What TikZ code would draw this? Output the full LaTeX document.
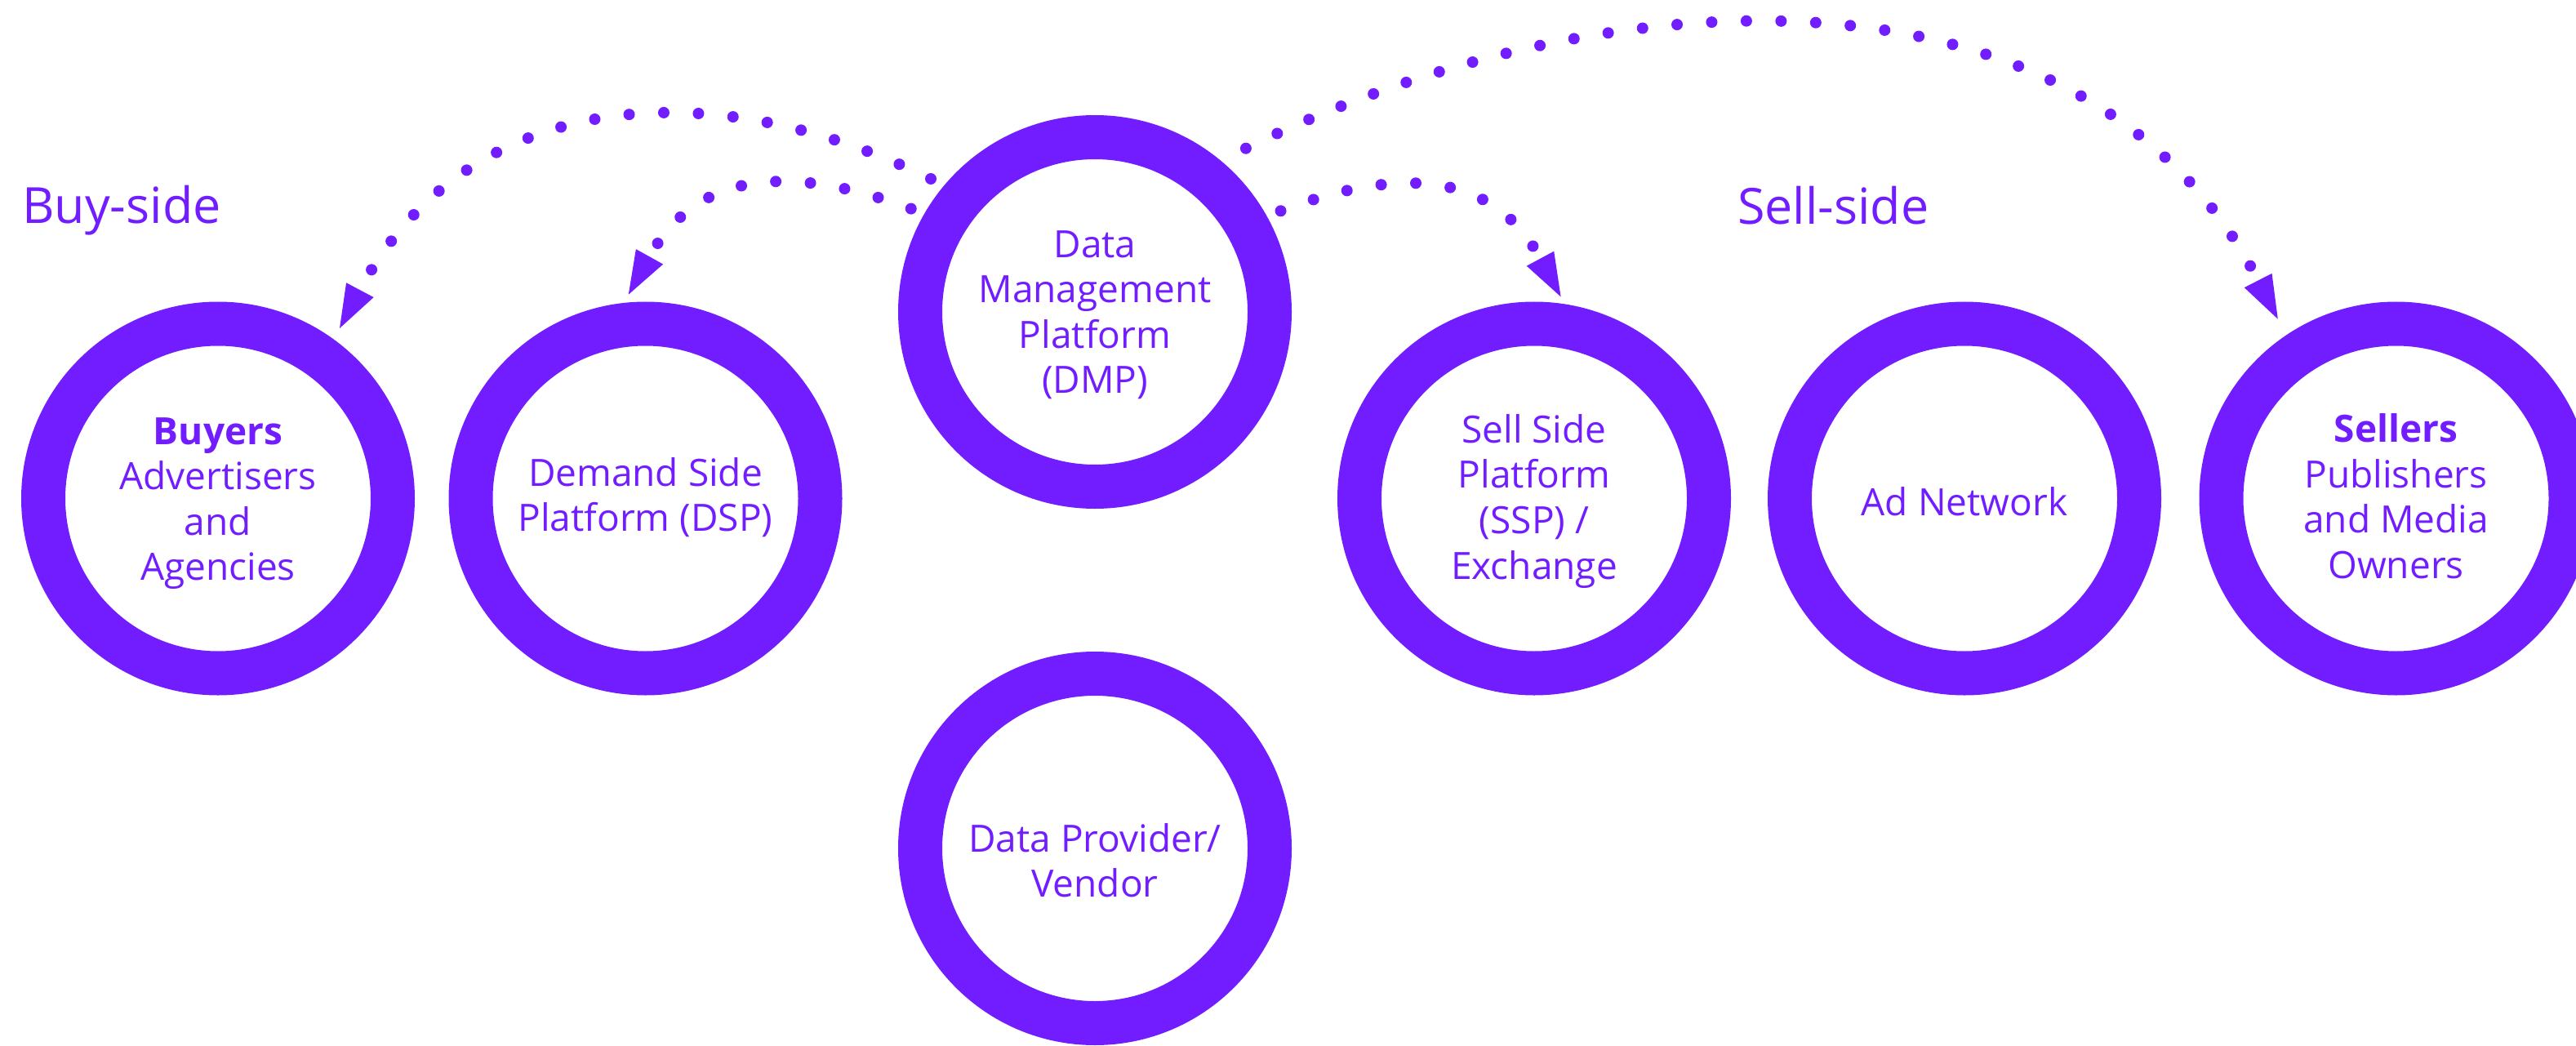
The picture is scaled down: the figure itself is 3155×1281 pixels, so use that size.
\documentclass[tikz,border=0pt]{standalone}
\usepackage{fontspec}
\setmainfont{Open Sans}
\usetikzlibrary{arrows.meta}
\definecolor{pcol}{RGB}{113,29,255}
\begin{document}
\begin{tikzpicture}[x=1pt,y=1pt,
  ring/.style={circle, draw=pcol, line width=54pt, minimum size=428pt, inner sep=0pt,
    align=center, text=pcol, font=\fontsize{46pt}{55.6pt}\selectfont, text depth=0pt},
  sidelabel/.style={anchor=base west, inner sep=0pt, text=pcol, font=\fontsize{61pt}{70pt}\selectfont},
  conn/.style={draw=pcol, line width=14pt, line cap=round, dash pattern=on 0pt off 42.5pt,
    -{Triangle[length=53pt,width=38pt,line width=0pt]}}]
\useasboundingbox (0,-1281) rectangle (3155,0);
\clip (0,-1281) rectangle (3155,0);

\node[ring, text height=200.6pt] (buyers) at (267,-610.5) {\textbf{Buyers}\\Advertisers\\and\\Agencies};
\node[ring, text height=80.2pt] (dsp) at (790.5,-610.5) {Demand Side\\Platform (DSP)};
\node[ring, text height=199.6pt] (dmp) at (1341,-382) {Data\\Management\\Platform\\(DMP)};
\node[ring, text height=119.8pt] (vendor) at (1341,-1039) {Data Provider/\\Vendor};
\node[ring, text height=197.2pt] (ssp) at (1879,-610.5) {Sell Side\\Platform\\(SSP) /\\Exchange};
\node[ring, text height=42.4pt] (adnet) at (2406,-610.5) {Ad Network};
\node[ring, text height=196pt] (sellers) at (2934.5,-610.5) {\textbf{Sellers}\\Publishers\\and Media\\Owners};

\node[sidelabel] (buyside) at (27,-274) {Buy-side};
\node[sidelabel] (sellside) at (2128,-275) {Sell-side};

\coordinate (s1) at ([shift={(140.96:258.8)}]dmp.center);
\coordinate (t1) at ([shift={(54.45:256.3)}]buyers.center);
\coordinate (s2) at ([shift={(150.7:258.3)}]dmp.center);
\coordinate (t2) at ([shift={(94.74:250.7)}]dsp.center);
\coordinate (s3) at ([shift={(28.53:259)}]dmp.center);
\coordinate (t3) at ([shift={(82.49:249.3)}]ssp.center);
\coordinate (s4) at ([shift={(47.29:272.6)}]dmp.center);
\coordinate (t4) at ([shift={(123.36:263.2)}]sellers.center);

\draw[conn] (s1) .. controls +(153.84:320) and +(62.03:320) .. (t1);
\draw[conn] (s2) .. controls +(159.52:155) and +(60.97:175) .. (t2);
\draw[conn] (s3) .. controls +(20.79:155) and +(118.28:175) .. (t3);
\draw[conn] (s4) .. controls +(26.18:504) and +(117.13:504) .. (t4);
\end{tikzpicture}
\end{document}
